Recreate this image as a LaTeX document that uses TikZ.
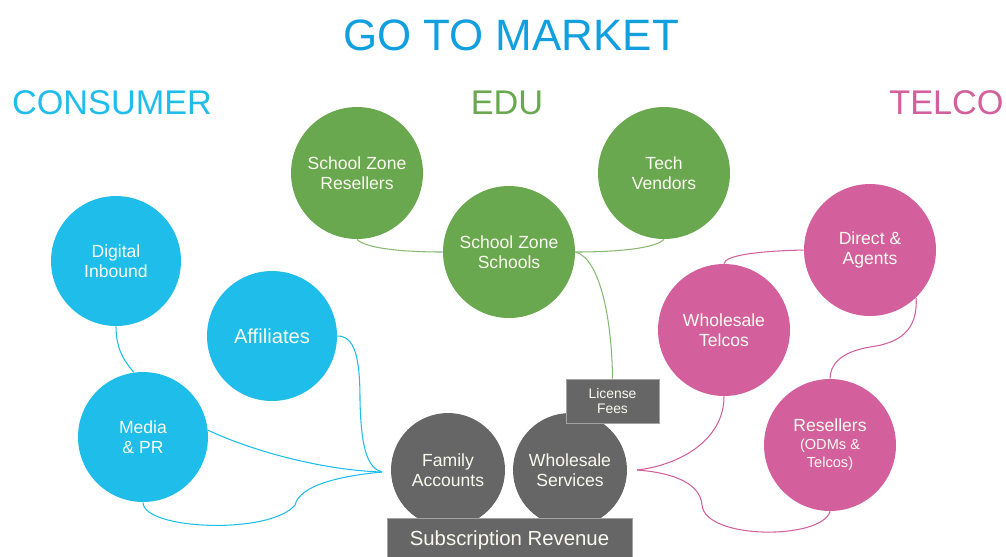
\documentclass[tikz,border=0pt]{standalone}
\usepackage{fontspec}
\setmainfont{Liberation Sans}
\definecolor{titleblue}{HTML}{119FE0}
\definecolor{consumer}{HTML}{1FBDEA}
\definecolor{edu}{HTML}{6AA84F}
\definecolor{telco}{HTML}{D3609D}
\definecolor{revenue}{HTML}{666666}
\definecolor{cream}{HTML}{FAFAF0}
\tikzset{
	bubble/.style={circle,inner sep=0pt,minimum size=2.64cm,text=cream,align=center,
		font=\fontsize{10}{11.3}\selectfont},
	graybox/.style={rectangle,fill=revenue,draw=revenue!60!white,line width=0.4pt,
		text=cream,align=center,inner sep=0pt},
	heading/.style={inner sep=0pt,font=\fontsize{19.5}{20}\selectfont},
	cline/.style={line width=0.6pt}
}
\begin{document}
\begin{tikzpicture}[x=0.02cm,y=-0.02cm]
	
	\useasboundingbox (0,0) rectangle (1006,556);
	
	% headings
	\node[inner sep=0pt,text=titleblue,font=\fontsize{25}{26}\selectfont] (title) at (511,35) {GO TO MARKET};
	\node[heading,text=consumer] (hcons) at (112,103) {CONSUMER};
	\node[heading,text=edu] (hedu) at (507,103) {EDU};
	\node[heading,text=telco,anchor=west] (htel) at (889,103) {TELCO};
	
	% consumer
	\node[bubble,fill=consumer,minimum size=2.6cm] (di) at (116,261) {Digital\\Inbound};
	\node[bubble,fill=consumer,minimum size=2.6cm,font=\fontsize{11.5}{12}\selectfont] (af) at (272,336) {Affiliates};
	\node[bubble,fill=consumer,minimum size=2.6cm] (mp) at (143,437) {Media\\\& PR};
	
	% edu
	\node[bubble,fill=edu] (szr) at (357,173) {School Zone\\Resellers};
	\node[bubble,fill=edu] (szs) at (509,252) {School Zone\\Schools};
	\node[bubble,fill=edu] (tv) at (664,173) {Tech\\Vendors};
	
	% telco
	\node[bubble,fill=telco] (da) at (870,250) {Direct \&\\Agents};
	\node[bubble,fill=telco] (wt) at (724,330) {Wholesale\\Telcos};
	\node[bubble,fill=telco] (rs) at (830,445) {Resellers\\[-1pt]{\fontsize{8.3}{10}\selectfont (ODMs \&}\\[-1pt]{\fontsize{8.3}{10}\selectfont Telcos)}};
	
	% revenue
	\node[bubble,fill=revenue,minimum size=2.28cm] (fa) at (448,470) {Family\\Accounts};
	\node[bubble,fill=revenue,minimum size=2.28cm] (ws) at (570,470) {Wholesale\\Services};
	\node[graybox,minimum width=1.86cm,minimum height=0.88cm,font=\fontsize{7.9}{8.6}\selectfont] (lf) at (612.5,401) {License\\Fees};
	\node[graybox,minimum width=4.9cm,minimum height=0.88cm,font=\fontsize{11.6}{12}\selectfont] (sr) at (509.5,540) {Subscription Revenue};
	
	\coordinate (cin) at (382,472);
	\coordinate (tin) at (637,470);
	
	% consumer links
	\draw[cline,consumer] (di.south) .. controls (116,350) and (125,362) .. (mp.98);
	\draw[cline,consumer] (af.east) .. controls (354,336) and (360,355) .. (360,400) .. controls (361,450) and (368,468) .. (cin);
	\draw[cline,consumer] (mp.6) .. controls (250,450) and (320,470) .. (cin);
	\draw[cline,consumer] (mp.south) .. controls (143,530) and (270,535) .. (295,505) .. controls (300,485) and (340,476) .. (cin);
	
	% edu links
	\draw[cline,edu!80!white] (szr.south) .. controls (365,248) and (400,252) .. (szs.west);
	\draw[cline,edu!80!white] (tv.south) .. controls (656,248) and (620,252) .. (szs.east);
	\draw[cline,edu!80!white] (szs.east) .. controls (600,258) and (612,320) .. (lf.north);
	
	% telco links
	\draw[cline,telco] (da.west) .. controls (760,251) and (725,255) .. (wt.north);
	\draw[cline,telco] (da.-46) .. controls (918,330) and (900,343) .. (870,347) .. controls (840,352) and (830,365) .. (rs.north);
	\draw[cline,telco] (wt.south) .. controls (724,440) and (680,465) .. (tin);
	\draw[cline,telco] (rs.south) .. controls (822,540) and (705,540) .. (702,505) .. controls (700,480) and (665,472) .. (tin);
	
\end{tikzpicture}
\end{document}
